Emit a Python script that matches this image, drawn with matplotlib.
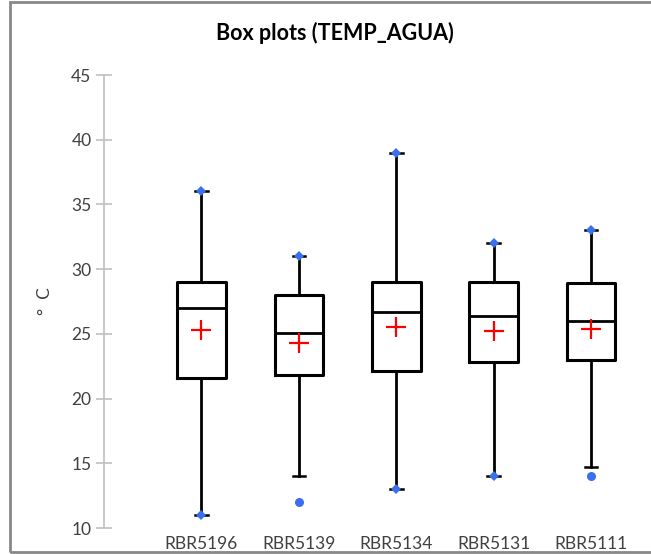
import matplotlib
matplotlib.use('Agg')
import matplotlib.pyplot as plt
from matplotlib.patches import Rectangle

# values
sensors = ['RBR5196', 'RBR5139', 'RBR5134', 'RBR5131', 'RBR5111']
q1 = [21.6, 21.8, 22.1, 22.8, 23.0]
median = [27.0, 25.1, 26.7, 26.4, 26.0]
q3 = [29.0, 28.0, 29.0, 29.0, 28.9]
mean = [25.3, 24.3, 25.5, 25.2, 25.4]
whisker_low = [11.0, 14.0, 13.0, 14.0, 14.7]
whisker_high = [36.0, 31.0, 39.0, 32.0, 33.0]
minimum = [11.0, 12.0, 13.0, 14.0, 14.0]
maximum = [36.0, 31.0, 39.0, 32.0, 33.0]

plt.rcParams['font.family'] = ['Lato', 'DejaVu Sans']

fig = plt.figure(figsize=(6.51, 5.54), dpi=100)
ax = fig.add_axes([0.1598, 0.0469, 0.823, 0.8177])

stats = []
for i, name in enumerate(sensors):
    stats.append({
        'label': name, 'q1': q1[i], 'med': median[i], 'q3': q3[i],
        'mean': mean[i], 'whislo': whisker_low[i], 'whishi': whisker_high[i],
        'fliers': [],
    })

pos = list(range(1, len(sensors) + 1))
ax.bxp(stats, positions=pos, widths=0.5, showmeans=True,
       boxprops=dict(color='black', linewidth=2.2),
       medianprops=dict(color='black', linewidth=2),
       whiskerprops=dict(color='black', linewidth=2),
       capprops=dict(color='black', linewidth=1.8),
       capwidths=0.13,
       meanprops=dict(marker='+', markeredgecolor='red', markersize=14,
                      markeredgewidth=1.6))

# min / max markers: diamond when on whisker end, circle when an outlier
for i, p in enumerate(pos):
    for v, w in ((minimum[i], whisker_low[i]), (maximum[i], whisker_high[i])):
        mk = 'D' if v == w else 'o'
        ms = 5.5 if mk == 'D' else 6.5
        ax.plot(p, v, marker=mk, color='#3a6ff0', markersize=ms,
                markeredgewidth=0, zorder=5)

ax.set_xlim(0, 5.5)
ax.set_ylim(10, 45)
ax.set_yticks(range(10, 46, 5))
ax.set_xticks(pos)
ax.set_xticklabels(sensors)
for s in ('top', 'right', 'bottom'):
    ax.spines[s].set_visible(False)
ax.spines['left'].set_color('#bfbfbf')
ax.spines['left'].set_linewidth(1.2)
ax.tick_params(axis='y', direction='inout', length=12, width=1.2,
               color='#bfbfbf', labelcolor='#404040', labelsize=12.5, pad=3)
ax.tick_params(axis='x', length=0, labelcolor='#404040', labelsize=12.5, pad=6)
ax.set_ylabel('°  C', fontsize=12.5, color='#404040')
ax.yaxis.set_label_coords(-0.095, 0.5)

fig.text(0.515, 0.94, 'Box plots (TEMP_AGUA)', ha='center', va='center',
         fontsize=15.5, fontweight='bold')

# chart area border
fig.patches.append(Rectangle((10 / 651, 2 / 554), 660 / 651, 550 / 554,
                             transform=fig.transFigure, fill=False,
                             edgecolor='#888888', linewidth=2))

fig.savefig('out.png', dpi=100)
